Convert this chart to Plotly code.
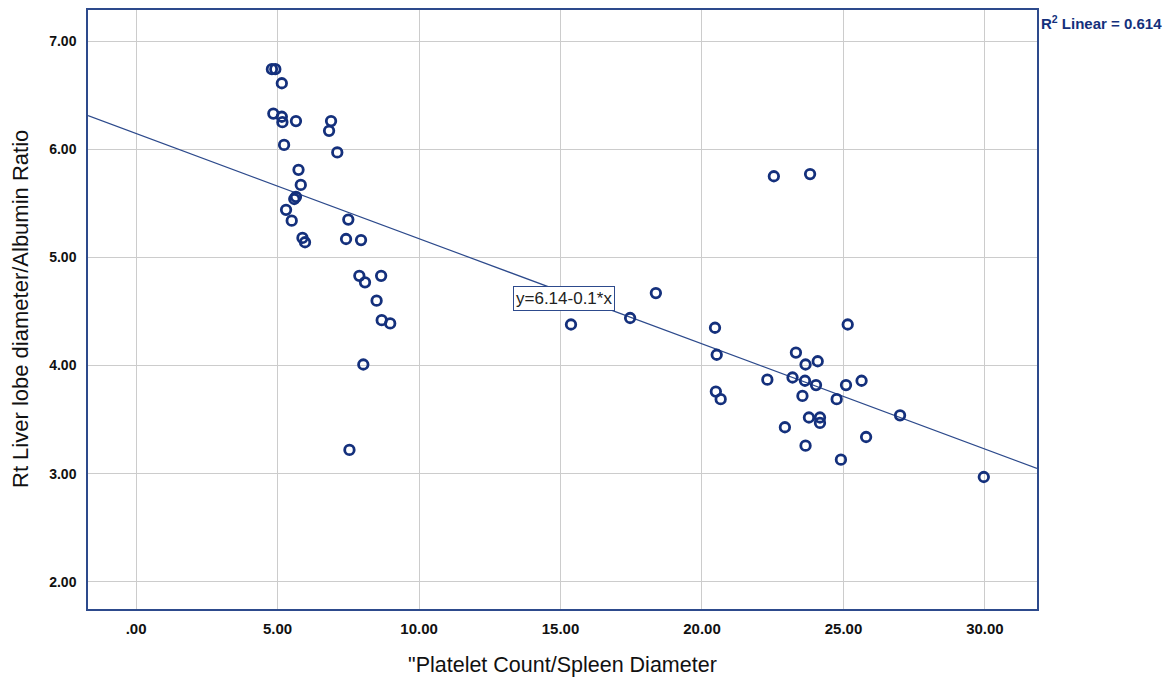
import plotly.graph_objects as go
import numpy as np

# Data
platelet_spleen = [4.80, 4.92, 5.15, 4.85, 5.15, 5.17, 5.65, 6.89, 6.82, 5.23, 7.11, 5.74, 5.82,
                   5.59, 5.65, 5.30, 5.50, 5.88, 5.97, 7.42, 7.95, 7.50, 7.89, 8.09, 8.66, 8.50,
                   8.68, 8.98, 8.03, 7.54,
                   15.37, 17.46, 18.37,
                   20.46, 20.52, 20.49, 20.66, 22.31, 22.93, 23.32, 23.20, 23.66, 23.64, 24.03,
                   24.09, 23.55, 23.78, 24.17, 24.17, 23.66, 24.76, 25.09, 25.64, 25.15, 25.80,
                   24.91, 27.00, 22.54, 23.82, 29.96]
liver_albumin = [6.74, 6.74, 6.61, 6.33, 6.30, 6.25, 6.26, 6.26, 6.17, 6.04, 5.97, 5.81, 5.67,
                 5.54, 5.56, 5.44, 5.34, 5.18, 5.14, 5.17, 5.16, 5.35, 4.83, 4.77, 4.83, 4.60,
                 4.42, 4.39, 4.01, 3.22,
                 4.38, 4.44, 4.67,
                 4.35, 4.10, 3.76, 3.69, 3.87, 3.43, 4.12, 3.89, 4.01, 3.86, 3.82,
                 4.04, 3.72, 3.52, 3.52, 3.47, 3.26, 3.69, 3.82, 3.86, 4.38, 3.34,
                 3.13, 3.54, 5.75, 5.77, 2.97]

fit_intercept = 6.145
fit_slope = -0.0972
equation_text = "y=6.14-0.1*x"
r2_text = "R<sup>2</sup> Linear = 0.614"
x_title = "\"Platelet Count/Spleen Diameter"
y_title = "Rt Liver lobe diameter/Albumin Ratio"
x_ticks = [0, 5, 10, 15, 20, 25, 30]
x_tick_labels = [".00", "5.00", "10.00", "15.00", "20.00", "25.00", "30.00"]
y_ticks = [2, 3, 4, 5, 6, 7]
y_tick_labels = ["2.00", "3.00", "4.00", "5.00", "6.00", "7.00"]

x_range = [-1.70, 31.84]
y_range = [1.75, 7.287]

navy = "#14307c"
line_col = "#2d4a8c"

fig = go.Figure()

xl = np.array(x_range)
fig.add_trace(go.Scatter(
    x=xl, y=fit_intercept + fit_slope * xl, mode="lines",
    line=dict(color=line_col, width=1.2), hoverinfo="skip", showlegend=False))

fig.add_trace(go.Scatter(
    x=platelet_spleen, y=liver_albumin, mode="markers",
    marker=dict(symbol="circle-open", size=9.5, color=navy, line=dict(width=2.8, color=navy)),
    showlegend=False))

fig.add_annotation(
    x=15.12, y=4.62, xref="x", yref="y", text=equation_text, showarrow=False,
    font=dict(family="Arial, Liberation Sans", size=17, color="#222222"),
    bgcolor="white", bordercolor=line_col, borderwidth=1, borderpad=2)

fig.add_annotation(
    x=1.002, y=1.0, xref="paper", yref="paper", xanchor="left", yanchor="top",
    yshift=-1, text="<b>" + r2_text + "</b>", showarrow=False,
    font=dict(family="Arial, Liberation Sans", size=15, color=navy))

# axis titles as annotations
fig.add_annotation(
    x=0.5, y=0, xref="paper", yref="paper", xanchor="center", yanchor="top",
    yshift=-42, text=x_title, showarrow=False,
    font=dict(family="Arial, Liberation Sans", size=21.5, color="#111111"))
fig.add_annotation(
    x=0, y=0.5, xref="paper", yref="paper", xanchor="right", yanchor="middle",
    xshift=-53, textangle=-90, text=y_title, showarrow=False,
    font=dict(family="Arial, Liberation Sans", size=22, color="#111111"))

fig.update_layout(
    width=1174, height=678,
    margin=dict(l=88, r=137, t=10, b=69, autoexpand=False),
    plot_bgcolor="white", paper_bgcolor="white",
    xaxis=dict(
        range=x_range, tickvals=x_ticks, ticktext=x_tick_labels,
        showgrid=True, gridcolor="#cccccc", gridwidth=1, zeroline=False,
        showline=True, linecolor=line_col, linewidth=1.5, mirror=True,
        ticks="", ticklabelstandoff=5, automargin=False,
        tickfont=dict(family="Arial, Liberation Sans", size=15, color="#111111", weight="bold")),
    yaxis=dict(
        range=y_range, tickvals=y_ticks, ticktext=y_tick_labels,
        showgrid=True, gridcolor="#cccccc", gridwidth=1, zeroline=False,
        showline=True, linecolor=line_col, linewidth=1.5, mirror=True,
        ticks="", ticklabelstandoff=7, automargin=False,
        tickfont=dict(family="Arial, Liberation Sans", size=14, color="#111111", weight="bold")),
)

fig.write_html("out.html", config={"displayModeBar": False},
               post_script="document.body.style.margin='0px';")
